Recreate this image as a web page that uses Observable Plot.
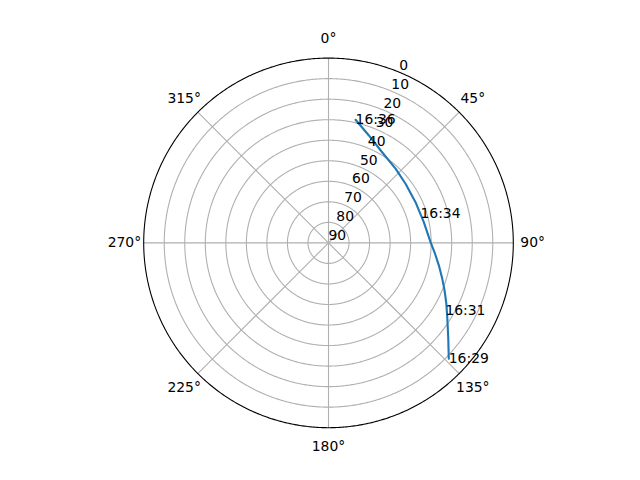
<!DOCTYPE html>
<html>
<head>
<meta charset="utf-8">
<script src="https://cdn.jsdelivr.net/npm/d3@7"></script>
<script src="https://cdn.jsdelivr.net/npm/@observablehq/plot@0.6"></script>
<style>
  html, body { margin: 0; padding: 0; background: #fff; }
</style>
</head>
<body>
<div id="chart"></div>
<script>
// ---- data (azimuth in degrees clockwise from north, elevation in degrees) ----
const trackAz = [133.9, 128.2, 122.0, 112.3, 101.6, 89.6, 77.7, 64.9, 52.5, 42.1, 30.6, 20.6, 12.4];
const trackEl = [8.7, 15.8, 21.8, 28.9, 35.1, 40.3, 42.5, 43.2, 42.7, 41.3, 38.7, 34.1, 28.6];

const timeLabels = ["16:29", "16:31", "16:34", "16:36"];
const timeAz = [133.9, 120.4, 72.8, 12.4];
const timeEl = [8.7, 24.0, 43.1, 28.6];

const angleTicks = [0, 45, 90, 135, 180, 225, 270, 315];
const angleTickLabels = ["0°", "45°", "90°", "135°", "180°", "225°", "270°", "315°"];
const radialTicks = [0, 10, 20, 30, 40, 50, 60, 70, 80, 90];
const radialTickLabels = ["0", "10", "20", "30", "40", "50", "60", "70", "80", "90"];
const radialLabelAz = 22.5;

// ---- helpers ----
const lon = az => 180 - az; // azimuth (clockwise from top) -> longitude in pole-centred projection
const track = trackAz.map((az, i) => ({az, el: trackEl[i]}));
const times = timeLabels.map((t, i) => ({t, az: timeAz[i], el: timeEl[i]}));
const angles = angleTicks.map((a, i) => ({a, label: angleTickLabels[i]}));
const radials = radialTicks.map((r, i) => ({r, label: radialTickLabels[i]}));
const rings = radialTicks.filter(r => r > 0 && r < 90);
const circle = r => d3.geoCircle().center([0, 90]).radius(r).precision(0.5)();
const thetaLabelEl = -9.4; // label ring just outside the horizon

const chart = Plot.plot({
  width: 640,
  height: 480,
  marginLeft: 143.2,
  marginRight: 127.2,
  marginTop: 57.6,
  marginBottom: 52.8,
  style: {fontFamily: "DejaVu Sans", fontSize: "13.9px", background: "#fff", color: "#000"},
  projection: {
    type: "azimuthal-equidistant",
    rotate: [0, -90],
    domain: circle(90),
    clip: false
  },
  marks: [
    Plot.geo(rings, {geometry: e => circle(90 - e), fill: "none", stroke: "#b0b0b0", strokeWidth: 1.1}),
    Plot.link(angles, {x1: d => lon(d.a), y1: () => 90, x2: d => lon(d.a), y2: () => 0,
      stroke: "#b0b0b0", strokeWidth: 1.1}),
    Plot.geo([90], {geometry: e => circle(e), fill: "none", stroke: "#000", strokeWidth: 1.1}),
    Plot.line(track, {x: d => lon(d.az), y: "el", stroke: "#1f77b4", strokeWidth: 2.1}),
    Plot.text(times, {x: d => lon(d.az), y: "el", text: "t", textAnchor: "start", lineAnchor: "bottom", dy: 4, fill: "#000"}),
    Plot.text(radials, {x: () => lon(radialLabelAz), y: "r", text: "label", textAnchor: "start", lineAnchor: "bottom", dy: -2.5, fill: "#000"}),
    Plot.text(angles, {x: d => lon(d.a), y: () => thetaLabelEl, text: "label", textAnchor: "middle", lineAnchor: "middle", fill: "#000"})
  ]
});
document.getElementById("chart").appendChild(chart);
</script>
</body>
</html>
